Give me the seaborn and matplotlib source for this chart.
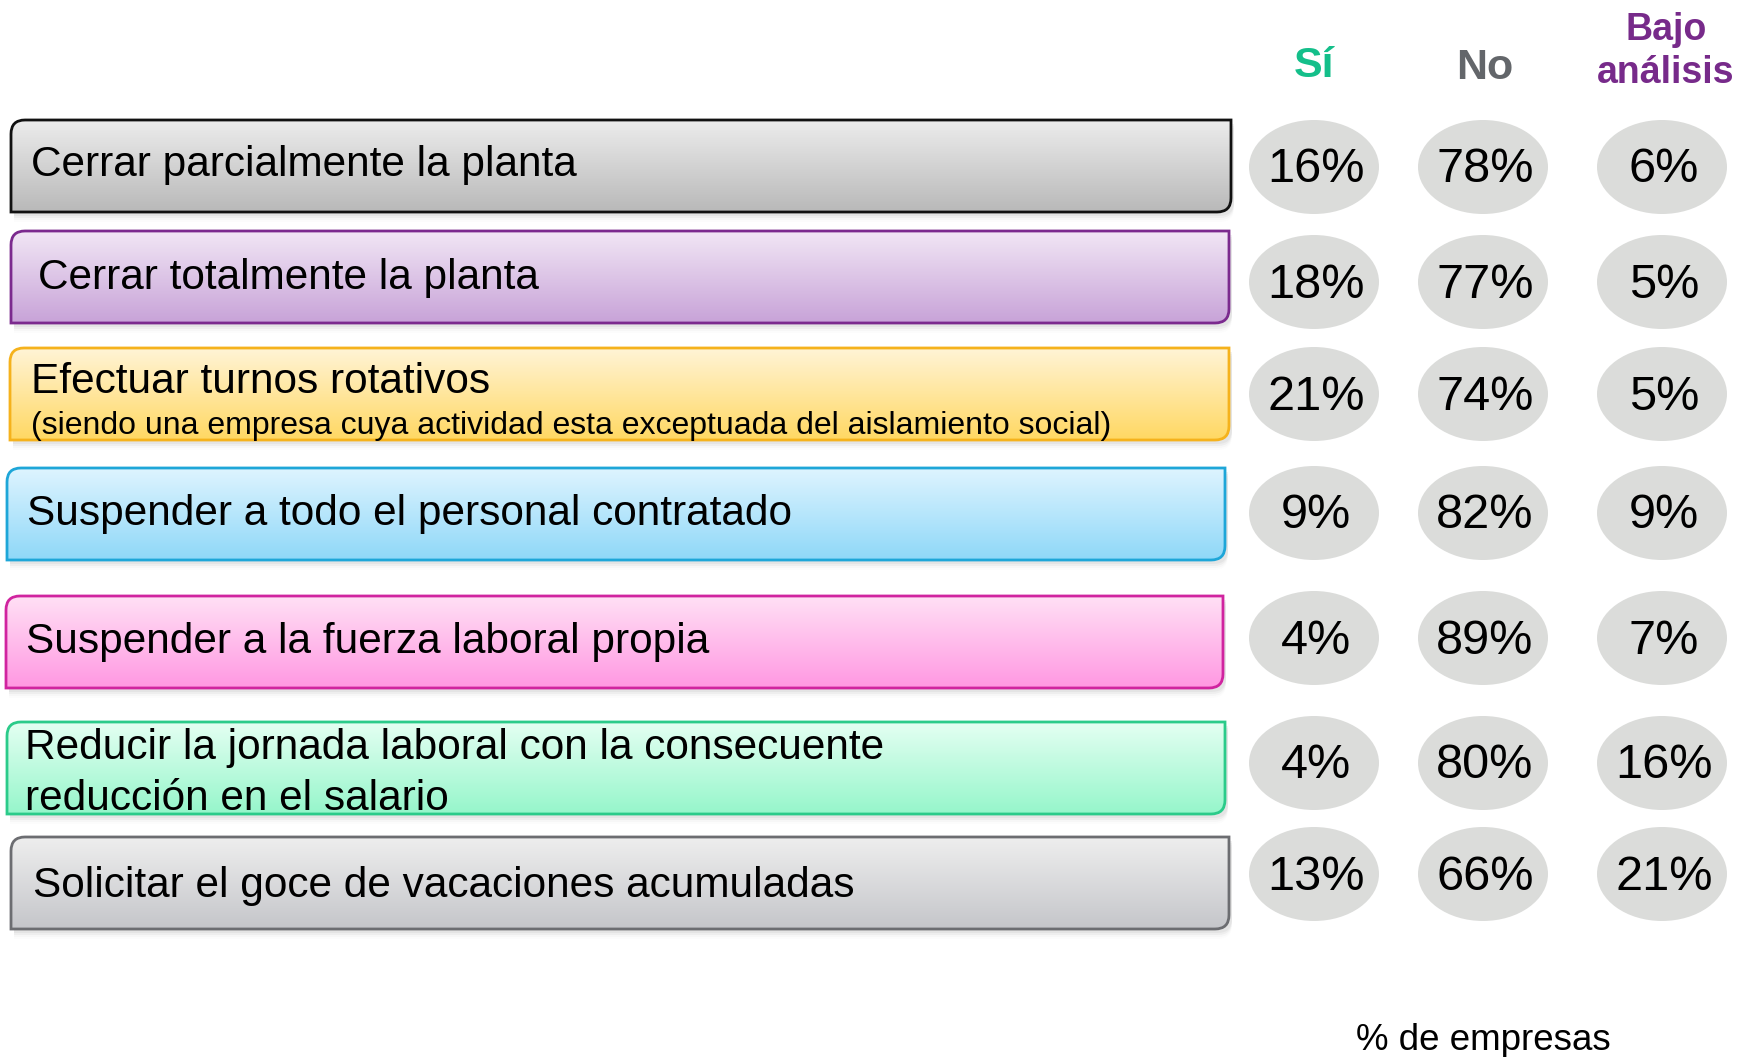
import numpy as np
import pandas as pd
import matplotlib
matplotlib.use("Agg")
import matplotlib.pyplot as plt
import seaborn as sns
from matplotlib.path import Path
from matplotlib.patches import PathPatch, Ellipse

# data
acciones = [
    "Cerrar parcialmente la planta",
    "Cerrar totalmente la planta",
    "Efectuar turnos rotativos",
    "Suspender a todo el personal contratado",
    "Suspender a la fuerza laboral propia",
    "Reducir la jornada laboral con la consecuente\nreducción en el salario",
    "Solicitar el goce de vacaciones acumuladas",
]
notas = ["", "", "(siendo una empresa cuya actividad esta exceptuada del aislamiento social)",
         "", "", "", ""]
si = [16, 18, 21, 9, 4, 4, 13]
no = [78, 77, 74, 82, 89, 80, 66]
bajo = [6, 5, 5, 9, 7, 16, 21]
columnas = ["Sí", "No", "Bajo\nanálisis"]

# styles
box_top = ["#ececec", "#f1e6f5", "#fff4d6", "#def4ff", "#ffe0f5", "#e4fff2", "#eeeeee"]
box_bot = ["#b9b9b9", "#c8a3d8", "#ffd863", "#8fd8f8", "#ff98e2", "#96f6cb", "#c5c6ca"]
box_edge = ["#111111", "#7b2a8e", "#f5b21c", "#1ea6d8", "#d0249f", "#2bcb8a", "#6c6d71"]
head_colors = ["#14bf8a", "#63666a", "#772a8a"]

sns.set_theme(style="white")
plt.rcParams["font.family"] = ["Liberation Sans", "DejaVu Sans"]
plt.rcParams["text.color"] = "black"

df = pd.DataFrame({"accion": acciones, "Sí": si, "No": no, "Bajo\nanálisis": bajo})

fig = plt.figure(figsize=(17.48, 10.57), dpi=100)
ax = fig.add_axes([0, 0, 1, 1])
ax.set_xlim(0, 1748)
ax.set_ylim(1057, 0)
ax.axis("off")

# layout (pixel-like axes coordinates)
row_y = [167, 282, 394, 513, 638, 763, 874]
box_y = [166, 277, 394, 514, 642, 768, 883]
box_l = [11, 11, 10, 7, 6, 7, 11]
box_r = [1231, 1229, 1229, 1225, 1223, 1225, 1229]
text_x = [31, 38, 31, 27, 26, 25, 33]
text_dy = [-1, 1, 0, 0, 0, 0, 3]
col_x = [1314, 1483, 1662]
box_h = 92


def box_path(xa, ya, xb, yb, r=14):
    verts = [(xa + r, ya), (xb, ya), (xb, yb - r), (xb, yb), (xb - r, yb),
             (xa, yb), (xa, ya + r), (xa, ya), (xa + r, ya), (xa + r, ya)]
    codes = [Path.MOVETO, Path.LINETO, Path.LINETO, Path.CURVE3, Path.CURVE3,
             Path.LINETO, Path.LINETO, Path.CURVE3, Path.CURVE3, Path.CLOSEPOLY]
    return Path(verts, codes)


grad = np.linspace(0, 1, 100).reshape(-1, 1)
for i, row in df.iterrows():
    yc = box_y[i]
    x0, x1 = box_l[i], box_r[i]
    ya, yb = yc - box_h / 2, yc + box_h / 2
    # shadow
    for k, a in enumerate([0.10, 0.07, 0.04, 0.02]):
        sh = PathPatch(box_path(x0 + 3, ya + 4 + k * 2, x1 + 3, yb + 4 + k * 2),
                       facecolor="#888888", edgecolor="none", alpha=a, zorder=1)
        ax.add_patch(sh)
    patch = PathPatch(box_path(x0, ya, x1, yb), facecolor="none",
                      edgecolor=box_edge[i], linewidth=2, zorder=3)
    ax.add_patch(patch)
    cmap = matplotlib.colors.LinearSegmentedColormap.from_list(
        "g%d" % i, [box_top[i], box_bot[i]])
    im = ax.imshow(grad, cmap=cmap, extent=(x0, x1, yb, ya), aspect="auto", zorder=2)
    im.set_clip_path(patch)

    tx = text_x[i]
    if notas[i]:
        ax.text(tx, yc - 12, row["accion"], fontsize=30.5, va="center", ha="left", zorder=4)
        ax.text(tx, yc + 32, notas[i], fontsize=23, va="center", ha="left", zorder=4)
    elif "\n" in row["accion"]:
        l1, l2 = row["accion"].split("\n")
        ax.text(tx, yc - 20, l1, fontsize=30.5, va="center", ha="left", zorder=4)
        ax.text(tx, yc + 31, l2, fontsize=30.5, va="center", ha="left", zorder=4)
    else:
        ax.text(tx, yc + text_dy[i], row["accion"], fontsize=30.5,
                va="center", ha="left", zorder=4)

    for j, col in enumerate(columnas):
        ax.add_patch(Ellipse((col_x[j], row_y[i]), 130, 94, facecolor="#dbdcda",
                             edgecolor="none", zorder=2))
        ax.text(col_x[j] + 2, row_y[i] + 3, f"{row[col]}%", fontsize=35, ha="center",
                va="center", zorder=4)

# headers
ax.text(col_x[0], 66, columnas[0], fontsize=31, fontweight="bold",
        color=head_colors[0], ha="center", va="center")
ax.text(col_x[1] + 2, 68, columnas[1], fontsize=31, fontweight="bold",
        color=head_colors[1], ha="center", va="center")
b1, b2 = columnas[2].split("\n")
ax.text(col_x[2] + 4, 30, b1, fontsize=27, fontweight="bold",
        color=head_colors[2], ha="center", va="center")
ax.text(col_x[2] + 4, 73, b2, fontsize=27, fontweight="bold",
        color=head_colors[2], ha="center", va="center")

ax.text(1483, 1041, "% de empresas", fontsize=26.5, ha="center", va="center")

fig.savefig("out.png", dpi=100)
